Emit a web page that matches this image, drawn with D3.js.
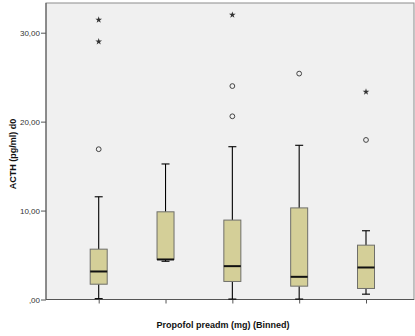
<!DOCTYPE html>
<html>
<head>
<meta charset="utf-8">
<script src="https://cdn.jsdelivr.net/npm/d3@7"></script>
<style>
  html, body { margin: 0; padding: 0; background: #ffffff; }
  svg { display: block; }
  text { font-family: Arial, "Liberation Sans", sans-serif; }
</style>
</head>
<body>
<svg id="chart" width="415" height="336"></svg>
<script>
// Propofol dose bins (no tick labels are shown on the x axis)
const bins = ["1", "2", "3", "4", "5"];
// Box-plot summary per bin: lower whisker, Q1, median, Q3, upper whisker
const whiskerLow  = [0.1, 4.3, 0.05, 0.05, 0.6];
const q1          = [1.72, 4.5, 2.03, 1.5, 1.24];
const medians     = [3.15, 4.5, 3.75, 2.55, 3.6];
const q3          = [5.66, 9.86, 8.93, 10.3, 6.11];
const whiskerHigh = [11.55, 15.24, 17.18, 17.34, 7.73];
// Outliers (circles) and extreme values (stars) per bin
const outlierBin  = ["1", "3", "3", "4", "5"];
const outlierVal  = [16.9, 24.0, 20.6, 25.4, 17.94];
const extremeBin  = ["1", "1", "3", "5"];
const extremeVal  = [31.45, 29.0, 32.0, 23.35];
// Y axis ticks
const yTicks = [0, 10, 20, 30];
const yTickLabels = [",00", "10,00", "20,00", "30,00"];

const svg = d3.select("#chart");
const plot = { left: 46, right: 414, top: 3, bottom: 299.5 };

const x = d3.scalePoint().domain(bins).range([98.7, 366]);
const y = d3.scaleLinear().domain([0, 30]).range([plot.bottom, 32.7]);

// plot background + frame
svg.append("rect")
  .attr("x", plot.left).attr("y", plot.top)
  .attr("width", plot.right - plot.left).attr("height", plot.bottom - plot.top)
  .attr("fill", "#f0f0f0")
  .attr("stroke", "#8c8c8c").attr("stroke-width", 1);

// Y axis
const yAxis = d3.axisLeft(y)
  .tickValues(yTicks)
  .tickFormat((d, i) => yTickLabels[i])
  .tickSize(5).tickPadding(1);
const gy = svg.append("g").attr("transform", `translate(${plot.left},0)`).call(yAxis);
gy.select(".domain").attr("stroke", "#555").attr("d", `M0,${plot.bottom}V${plot.top}`);
gy.selectAll(".tick line").attr("stroke", "#555");
gy.selectAll(".tick text").attr("fill", "#333").style("font-size", "8px");

// X axis (ticks only)
const xAxis = d3.axisBottom(x).tickSize(4).tickFormat("");
const gx = svg.append("g").attr("transform", `translate(0,${plot.bottom})`).call(xAxis);
gx.select(".domain").attr("stroke", "#555").attr("d", `M${plot.left},0H${plot.right}`);
gx.selectAll(".tick line").attr("stroke", "#555");

// boxes
const boxW = 17, capW = 8;
const stats = bins.map((b, i) => ({
  bin: b, lo: whiskerLow[i], q1: q1[i], med: medians[i], q3: q3[i], hi: whiskerHigh[i]
}));
const g = svg.append("g");

// whiskers
g.selectAll("line.whisk-up").data(stats).join("line")
  .attr("class", "whisk-up")
  .attr("x1", d => x(d.bin)).attr("x2", d => x(d.bin))
  .attr("y1", d => y(d.q3)).attr("y2", d => y(d.hi))
  .attr("stroke", "#000").attr("stroke-width", 1.1);
g.selectAll("line.whisk-down").data(stats).join("line")
  .attr("class", "whisk-down")
  .attr("x1", d => x(d.bin)).attr("x2", d => x(d.bin))
  .attr("y1", d => y(d.q1)).attr("y2", d => y(d.lo))
  .attr("stroke", "#000").attr("stroke-width", 1.1);
g.selectAll("line.cap-hi").data(stats).join("line")
  .attr("class", "cap-hi")
  .attr("x1", d => x(d.bin) - capW / 2).attr("x2", d => x(d.bin) + capW / 2)
  .attr("y1", d => y(d.hi)).attr("y2", d => y(d.hi))
  .attr("stroke", "#000").attr("stroke-width", 1.1);
g.selectAll("line.cap-lo").data(stats).join("line")
  .attr("class", "cap-lo")
  .attr("x1", d => x(d.bin) - capW / 2).attr("x2", d => x(d.bin) + capW / 2)
  .attr("y1", d => y(d.lo)).attr("y2", d => y(d.lo))
  .attr("stroke", "#000").attr("stroke-width", 1.1);

// box bodies
g.selectAll("rect.box").data(stats).join("rect")
  .attr("class", "box")
  .attr("x", d => x(d.bin) - boxW / 2).attr("width", boxW)
  .attr("y", d => y(d.q3)).attr("height", d => y(d.q1) - y(d.q3))
  .attr("fill", "#d4cf98").attr("stroke", "#6f6f6a").attr("stroke-width", 1);

// medians
g.selectAll("line.med").data(stats).join("line")
  .attr("class", "med")
  .attr("x1", d => x(d.bin) - boxW / 2).attr("x2", d => x(d.bin) + boxW / 2)
  .attr("y1", d => y(d.med)).attr("y2", d => y(d.med))
  .attr("stroke", "#111").attr("stroke-width", 2);

// outliers (open circles)
g.selectAll("circle.out").data(outlierVal.map((v, i) => ({ bin: outlierBin[i], v }))).join("circle")
  .attr("class", "out")
  .attr("cx", d => x(d.bin)).attr("cy", d => y(d.v)).attr("r", 2.4)
  .attr("fill", "none").attr("stroke", "#444").attr("stroke-width", 1);

// extremes (stars)
const star = d3.symbol().type(d3.symbolStar).size(14);
g.selectAll("path.ext").data(extremeVal.map((v, i) => ({ bin: extremeBin[i], v }))).join("path")
  .attr("class", "ext")
  .attr("transform", d => `translate(${x(d.bin)},${y(d.v)})`)
  .attr("d", star)
  .attr("fill", "#333");

// axis titles
svg.append("text")
  .attr("x", 223).attr("y", 328)
  .attr("text-anchor", "middle")
  .style("font-size", "9px").style("font-weight", "bold").attr("fill", "#111")
  .text("Propofol preadm (mg) (Binned)");
svg.append("text")
  .attr("transform", `translate(15.5,154) rotate(-90)`)
  .attr("text-anchor", "middle")
  .style("font-size", "9px").style("font-weight", "bold").attr("fill", "#111")
  .text("ACTH (pg/ml) d0");
</script>
</body>
</html>
